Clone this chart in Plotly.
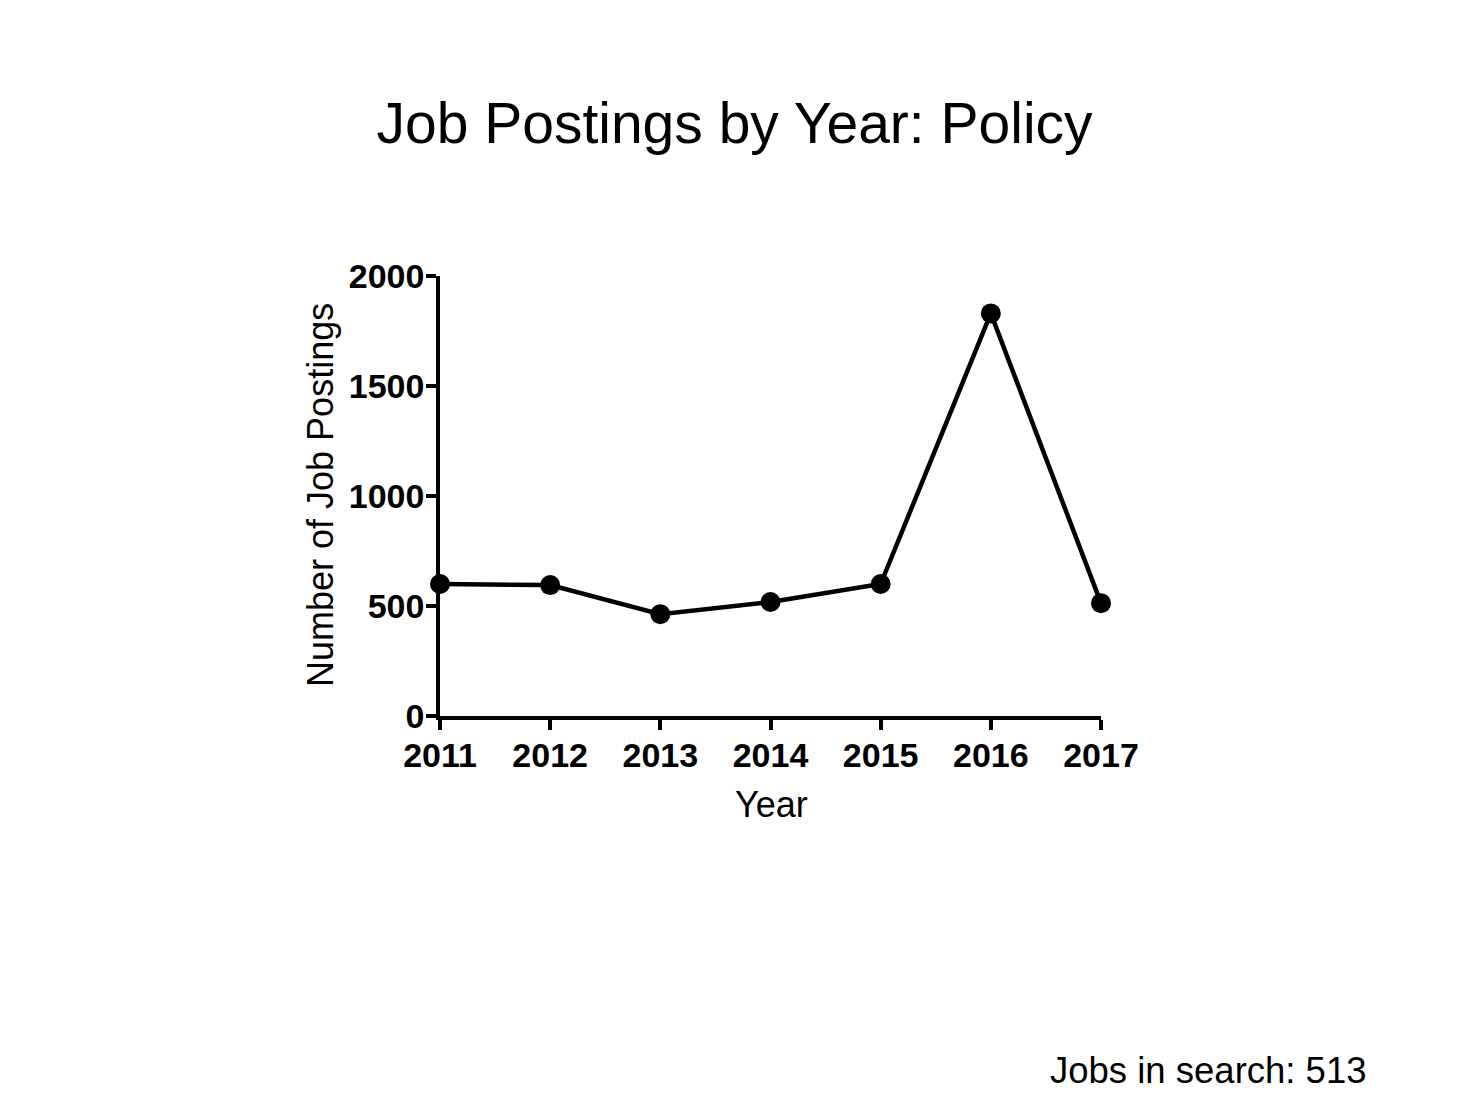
"""Job postings by year (Policy) — line chart with markers."""

import plotly.graph_objects as go

years = [2011, 2012, 2013, 2014, 2015, 2016, 2017]
postings = [600, 595, 463, 518, 600, 1830, 513]
y_ticks = [0, 500, 1000, 1500, 2000]
jobs_in_search = 513

FONT = "Arial, Liberation Sans, sans-serif"
W, H = 1470, 1103
SHIFT = 8  # page body margin offsets the figure by this much
L, R, T, B = 440 - SHIFT, W - (1101 - SHIFT), 276 - SHIFT, H - (716 - SHIFT)
plot_w = W - L - R
plot_h = H - T - B


def px_to_paper(px, py):
    """Screen pixel position -> paper coords."""
    fx, fy = px - SHIFT, py - SHIFT
    return (fx - L) / plot_w, (H - B - fy) / plot_h


fig = go.Figure()
fig.add_trace(
    go.Scatter(
        x=years,
        y=postings,
        mode="lines+markers",
        line={"color": "black", "width": 4.5},
        marker={"color": "black", "size": 20},
        cliponaxis=False,
        showlegend=False,
    )
)

axis_common = dict(
    showline=True,
    linecolor="black",
    linewidth=3.5,
    ticks="outside",
    ticklen=10,
    tickwidth=3.5,
    tickcolor="black",
    showgrid=False,
    zeroline=False,
    tickfont={"family": FONT, "size": 34, "color": "black", "weight": "bold"},
)

fig.update_xaxes(range=[2011, 2017], tickvals=years,
                 ticktext=[str(y) for y in years], ticklabelstandoff=-4,
                 **axis_common)
fig.update_yaxes(range=[0, 2000], tickvals=y_ticks, ticklabelstandoff=-5,
                 **axis_common)

ax, ay = px_to_paper(771, 804)
nx, ny = px_to_paper(320, 495)
jx, jy = px_to_paper(1369, 1070)

fig.update_layout(
    width=W,
    height=H,
    paper_bgcolor="white",
    plot_bgcolor="white",
    margin={"l": L, "r": R, "t": T, "b": B, "pad": 0},
    title={
        "text": "Job Postings by Year: Policy",
        "x": (734.5 - SHIFT) / W,
        "xanchor": "center",
        "y": 1 - (123 - SHIFT) / H,
        "yanchor": "middle",
        "font": {"family": FONT, "size": 57, "color": "black"},
    },
    annotations=[
        dict(
            text="Year", x=ax, y=ay, xref="paper", yref="paper",
            xanchor="center", yanchor="middle", showarrow=False,
            font={"family": FONT, "size": 36, "color": "black"},
        ),
        dict(
            text="Number of Job Postings", x=nx, y=ny, xref="paper", yref="paper",
            xanchor="center", yanchor="middle", showarrow=False, textangle=-90,
            font={"family": FONT, "size": 36, "color": "black"},
        ),
        dict(
            text=f"Jobs in search: {jobs_in_search}", x=jx, y=jy,
            xref="paper", yref="paper",
            xanchor="right", yanchor="middle", showarrow=False,
            font={"family": FONT, "size": 36.5, "color": "black"},
        ),
    ],
)

fig.write_html("out.html")
